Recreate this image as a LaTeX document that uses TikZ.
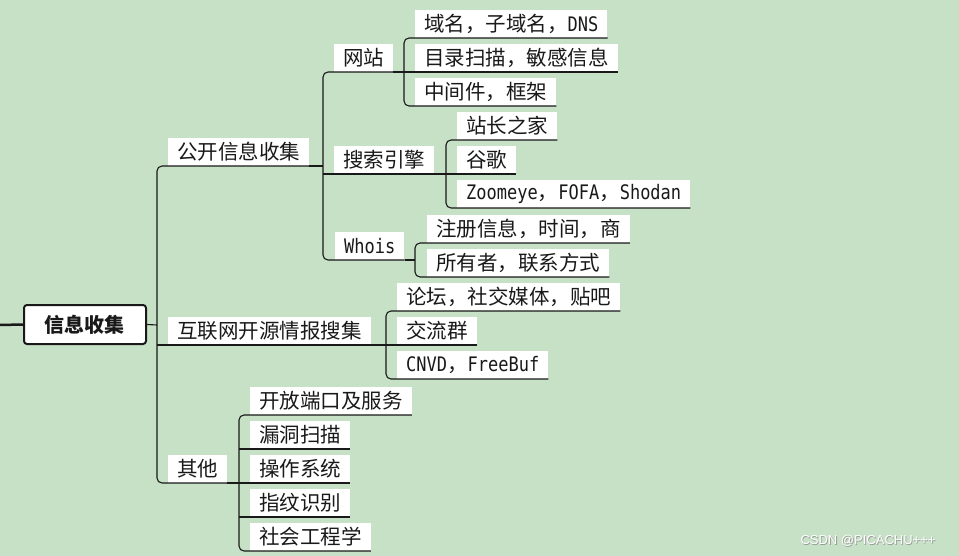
\documentclass[tikz,border=0pt]{standalone}
\usepackage{fontspec}
\setmainfont{Noto Sans CJK SC}
\newfontfamily\monof[FakeStretch=0.85]{DejaVu Sans Mono}
\newfontfamily\wmfont{Liberation Sans}
\newcommand\latw[1]{{\fontsize{20}{24}\selectfont\monof #1}}
\definecolor{bgc}{RGB}{199,225,198}
\definecolor{ink}{RGB}{25,25,25}
\tikzset{
  topic/.style={fill=white, anchor=south west, inner xsep=9pt, inner ysep=0pt,
    minimum height=28pt, text=ink, font=\fontsize{20.5}{24}\selectfont},
  conn/.style={draw=ink, line width=1.1pt},
  rconn/.style={conn, rounded corners=5pt},
  rootbox/.style={draw=ink, fill=white, line width=2pt, rounded corners=3pt,
    minimum width=122pt, minimum height=39pt, text=ink,
    font=\fontsize{20}{24}\selectfont\bfseries}
}
\begin{document}
\begin{tikzpicture}[x=1pt,y=-1pt]
\fill[bgc] (0,0) rectangle (959,556);
\useasboundingbox (0,0) rectangle (959,556);
% root
\node[rootbox] (root) at (85,324.5) {信息收集};
\coordinate (lend) at (0,325);
% level 1
\node[topic] (gk) at (168,166) {公开信息收集};
\node[topic] (hl) at (168,345) {互联网开源情报搜集};
\node[topic] (qt) at (168,483) {其他};
% level 2
\node[topic] (wz) at (334,72) {网站};
\node[topic] (ss) at (334,174) {搜索引擎};
\node[topic] (wh) at (335,260) {\latw{Whois}};
% level 3
\node[topic] (a1) at (415,38) {域名，子域名，\latw{DNS}};
\node[topic] (a2) at (415,72) {目录扫描，敏感信息};
\node[topic] (a3) at (415,106) {中间件，框架};
\node[topic] (b1) at (457,140) {站长之家};
\node[topic] (b2) at (457,174) {谷歌};
\node[topic] (b3) at (457,208) {\latw{Zoomeye}，\latw{FOFA}，\latw{Shodan}};
\node[topic] (c1) at (427,243) {注册信息，时间，商};
\node[topic] (c2) at (427,277) {所有者，联系方式};
\node[topic] (d1) at (397,311) {论坛，社交媒体，贴吧};
\node[topic] (d2) at (397,345) {交流群};
\node[topic] (d3) at (397,379) {\latw{CNVD}，\latw{FreeBuf}};
\node[topic] (e1) at (250,415) {开放端口及服务};
\node[topic] (e2) at (250,449) {漏洞扫描};
\node[topic] (e3) at (250,483) {操作系统};
\node[topic] (e4) at (250,517) {指纹识别};
\node[topic] (e5) at (250,551) {社会工程学};
% spine coordinates
\coordinate (ms) at (157,325);
\coordinate (gks) at (323,166);
\coordinate (wzs) at (404,72);
\coordinate (sss) at (446,174);
\coordinate (whs) at (415,260);
\coordinate (hls) at (386,345);
\coordinate (qts) at (239,483);
% root connectors
\draw[draw=ink, line width=2.5pt] (lend) -- (root.west);
\draw[conn] (root.east) -- (ms);
% main spine
\draw[rconn] (gk.south east) -- (gk.south -| ms) -- (qt.south -| ms) -- (qt.south east);
\draw[conn] (hl.south -| ms) -- (hl.south east);
% extensions of parents to their spines
\draw[conn] (gk.south east) -- (gks);
\draw[conn] (hl.south east) -- (hls);
\draw[conn] (qt.south east) -- (qts);
\draw[conn] (wz.south east) -- (wzs);
\draw[conn] (ss.south east) -- (sss);
\draw[conn] (wh.south east) -- (whs);
% gk spine
\draw[rconn] (wz.south east) -- (wz.south -| gks) -- (wh.south -| gks) -- (wh.south east);
\draw[conn] (ss.south -| gks) -- (ss.south east);
% wz spine
\draw[rconn] (a1.south east) -- (a1.south -| wzs) -- (a3.south -| wzs) -- (a3.south east);
\draw[conn] (wzs) -- (a2.south east);
% ss spine
\draw[rconn] (b1.south east) -- (b1.south -| sss) -- (b3.south -| sss) -- (b3.south east);
\draw[conn] (sss) -- (b2.south east);
% wh spine
\draw[rconn] (c1.south east) -- (c1.south -| whs) -- (c2.south -| whs) -- (c2.south east);
% hl spine
\draw[rconn] (d1.south east) -- (d1.south -| hls) -- (d3.south -| hls) -- (d3.south east);
\draw[conn] (hls) -- (d2.south east);
% qt spine
\draw[rconn] (e1.south east) -- (e1.south -| qts) -- (e5.south -| qts) -- (e5.south east);
\draw[conn] (e2.south -| qts) -- (e2.south east);
\draw[conn] (qts) -- (e3.south east);
\draw[conn] (e4.south -| qts) -- (e4.south east);
% watermark
\node[text=black!40, font=\fontsize{13}{15}\selectfont\wmfont] (wms) at (868.8,541.8) {CSDN @PICACHU+++};
\node[text=white!96!bgc, font=\fontsize{13}{15}\selectfont\wmfont] (wm) at (868,541) {CSDN @PICACHU+++};
\end{tikzpicture}
\end{document}
